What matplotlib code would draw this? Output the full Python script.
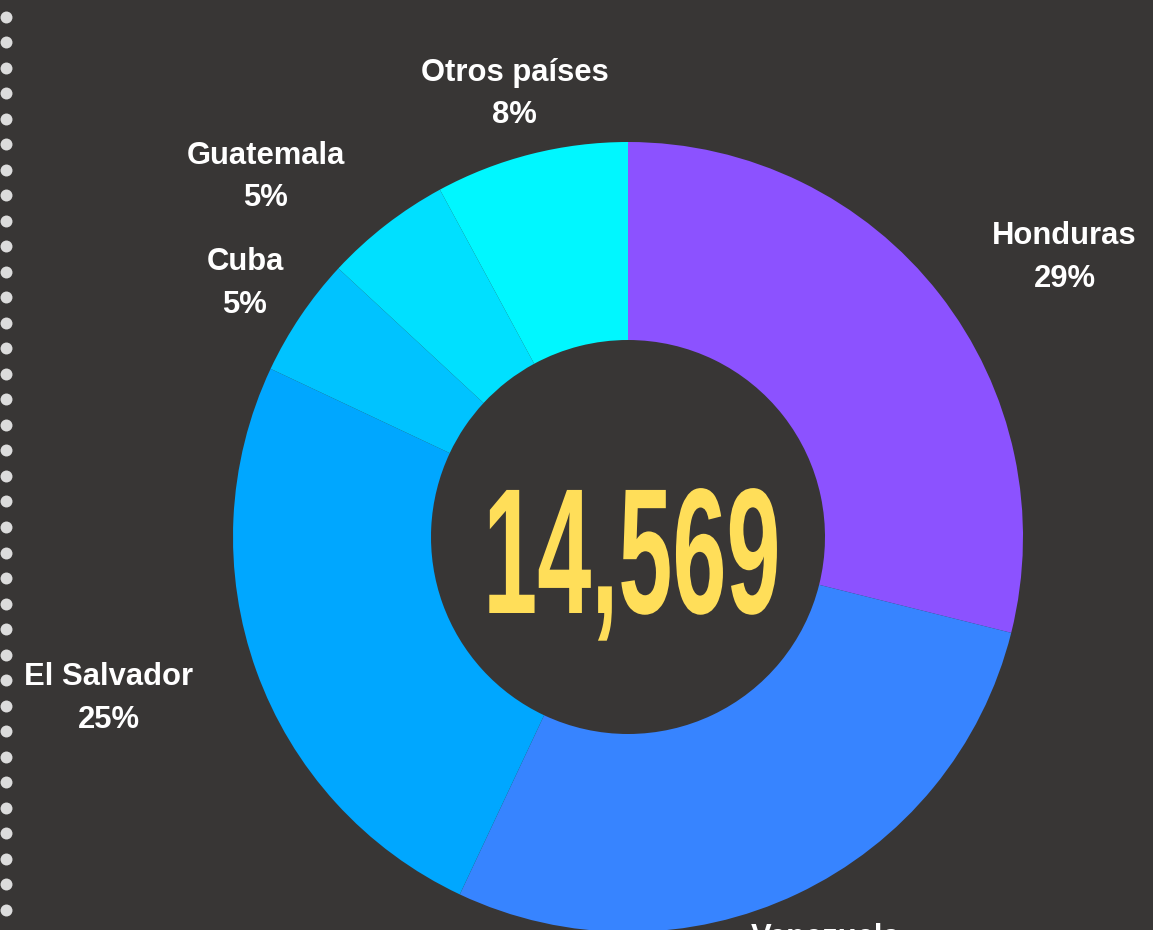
import numpy as np
import matplotlib
matplotlib.use("Agg")
import matplotlib.pyplot as plt
from matplotlib import patheffects
from matplotlib.transforms import Affine2D

# ---- data ----
countries = ["Honduras", "Venezuela", "El Salvador", "Cuba", "Guatemala", "Otros países"]
shares = [28.9, 28.1, 25.0, 4.9, 5.2, 7.9]
pct_labels = ["29%", "28%", "25%", "5%", "5%", "8%"]
total_label = "14,569"

colors = ["#8c52ff", "#3784ff", "#00a7ff", "#00c3ff", "#00e0ff", "#00f7ff"]
label_ha = ["left", "center", "right", "center", "right", "center"]

BG = "#383635"
W, H = 1153, 930

fig = plt.figure(figsize=(W / 100, H / 100), dpi=100, facecolor=BG)
ax = fig.add_axes([0, 0, 1, 1])
ax.set_facecolor(BG)

cx, cy = 628, H - 537
R = 395

labels = [f"{c}\n{p}" for c, p in zip(countries, pct_labels)]
wedges, texts = ax.pie(
    shares, colors=colors, startangle=90, counterclock=False,
    radius=R, center=(cx, cy),
    wedgeprops=dict(width=R - 197, edgecolor="none", linewidth=0),
    labels=labels, labeldistance=1.17,
    textprops=dict(color="white", fontsize=22.3, fontweight="bold",
                   family=["Liberation Sans", "DejaVu Sans"],
                   linespacing=1.55, multialignment="center"),
)
for t, ha in zip(texts, label_ha):
    x, y = t.get_position()
    t.set_position((x, y - 5))
    t.set_ha(ha)
    t.set_va("center")
    t.set_clip_on(False)


class VStretch(patheffects.AbstractPathEffect):
    def __init__(self, sy):
        super().__init__()
        self.sy = sy

    def draw_path(self, renderer, gc, tpath, affine, rgbFace=None):
        renderer.draw_path(gc, tpath, Affine2D().scale(1.0, self.sy) + affine, rgbFace)


ax.text(cx + 4, H - 613, total_label, ha="center", va="baseline",
        color="#ffde59", fontsize=70, fontweight="bold",
        family=["Liberation Sans Narrow", "Liberation Sans", "DejaVu Sans"],
        path_effects=[VStretch(1.84)])

# decorative dotted border on the left
dot_y = np.arange(H - 17, 20, -25.5)
ax.plot(np.full_like(dot_y, 6.0), dot_y, "o", color="#dcdcdc",
        markersize=8.6, markeredgewidth=0, clip_on=False)

ax.set_xlim(0, W)
ax.set_ylim(0, H)
ax.set_aspect("equal")
ax.axis("off")

fig.savefig("out.png", dpi=100, facecolor=BG)
